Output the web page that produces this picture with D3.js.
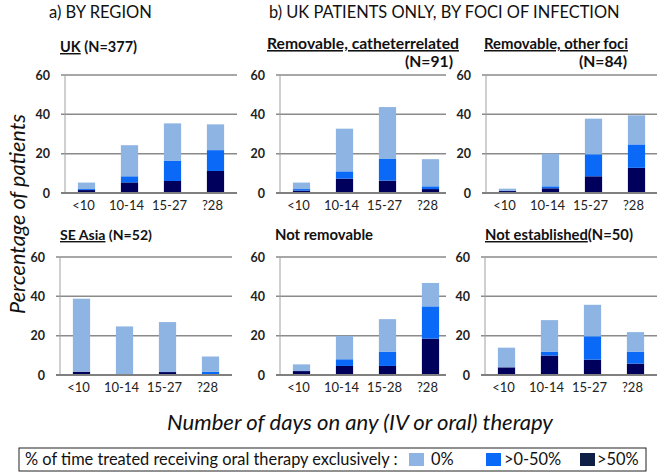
<!DOCTYPE html>
<html><head><meta charset="utf-8">
<script src="https://cdn.jsdelivr.net/npm/d3@7"></script>
<style>
body{margin:0;background:#fff;}
text{font-family:"Lato","Open Sans",sans-serif;}
</style></head>
<body><svg id="c" width="661" height="476"></svg>
<script>
const categories = ["<10","10-14","15-27","?28"];
const categoriesNR = ["<10","10-14","15-28","?28"];
const yTicks = [0,20,40,60];
const seriesNames = ["0%", ">0-50%", ">50%"];
// segment values (percentage of patients) per panel: dark (>50%), mid (>0-50%), light (0%)
const ukDark = [1.5,5.4,6.1,11.2],  ukMid = [0.5,3.1,10.4,10.6],  ukLight = [3.3,15.8,18.9,13.1];
const seDark = [1.7,0,1.5,0],       seMid = [0,0,0,1.7],          seLight = [37.1,24.7,25.4,7.7];
const catDark = [1.2,7.3,6.3,2],    catMid = [0.8,3.7,11,1.4],    catLight = [3.3,21.7,26.4,13.8];
const othDark = [1,2.4,8.5,12.8],   othMid = [0,1,11.2,11.9],     othLight = [1.2,16.6,18.1,14.8];
const nrDark = [2,4.6,4.6,18.5],    nrMid = [0,3.4,7.3,16.4],     nrLight = [3.4,11.9,16.5,11.9];
const neDark = [3.9,9.9,7.8,5.8],   neMid = [0,2,11.9,6.1],       neLight = [10,16,16,9.9];

const colors = {light:"#8db4e2", mid:"#0a6af7", dark:"#00005c"};
const svg = d3.select("#c");

// scale a text's font size so that it spans the given width
function fit(t, width) {
  const fs = +t.attr("font-size");
  const w = t.node().getComputedTextLength();
  if (w > 0) t.attr("font-size", (fs * width / w).toFixed(2));
  return t;
}

const panels = [
  {cats:categories, d:ukDark, m:ukMid, l:ukLight, x0:65, top:75, bot:193, w:172},
  {cats:categories, d:seDark, m:seMid, l:seLight, x0:60, top:257, bot:375, w:172},
  {cats:categories, d:catDark, m:catMid, l:catLight, x0:280, top:75, bot:193, w:166},
  {cats:categories, d:othDark, m:othMid, l:othLight, x0:486, top:75, bot:193, w:171},
  {cats:categoriesNR, d:nrDark, m:nrMid, l:nrLight, x0:280, top:257, bot:375, w:166},
  {cats:categories, d:neDark, m:neMid, l:neLight, x0:485, top:257, bot:375, w:172}
];

panels.forEach(p => {
  const g = svg.append("g");
  const y = d3.scaleLinear().domain([0,60]).range([p.bot, p.top]);
  const x = d3.scaleBand().domain(p.cats).range([p.x0, p.x0 + 172]).paddingInner(0.6).paddingOuter(0.3);
  g.selectAll("line.grid").data(yTicks.filter(t=>t>0)).join("line")
    .attr("x1", p.x0 - 4).attr("x2", p.x0 + p.w)
    .attr("y1", d=>y(d)).attr("y2", d=>y(d))
    .attr("stroke", "#8a8a8a").attr("stroke-width", 1.5);
  g.append("line").attr("x1", p.x0).attr("x2", p.x0).attr("y1", y(60)).attr("y2", y(0))
    .attr("stroke", "#a0a0a0").attr("stroke-width", 1);
  const rows = p.cats.map((c,i)=>({cat:c, dark:p.d[i], mid:p.m[i], light:p.l[i]}));
  const stack = d3.stack().keys(["dark","mid","light"])(rows);
  stack.forEach(s => {
    g.selectAll(null).data(s).join("rect")
      .attr("x", d=>x(d.data.cat)).attr("width", x.bandwidth())
      .attr("y", d=>y(d[1])).attr("height", d=>Math.max(0, y(d[0]) - y(d[1])))
      .attr("fill", colors[s.key]);
  });
  g.append("line").attr("x1", p.x0 - 4).attr("x2", p.x0 + p.w)
    .attr("y1", y(0)).attr("y2", y(0)).attr("stroke", "#808080").attr("stroke-width", 2);
  const ya = g.append("g").attr("transform", `translate(${p.x0},0)`)
    .call(d3.axisLeft(y).tickValues(yTicks).tickSize(0).tickPadding(15));
  ya.select(".domain").remove();
  ya.selectAll("text").attr("font-family","Liberation Sans, Arial, sans-serif")
    .attr("font-weight","bold").attr("font-size", 12.5).attr("fill","#222");
  const xa = g.append("g").attr("transform", `translate(-3,${p.bot})`)
    .call(d3.axisBottom(x).tickSize(0).tickPadding(8));
  xa.select(".domain").remove();
  xa.selectAll("text").attr("font-size", 13).attr("fill","#222");
});

function txt(x, y, s, opts={}) {
  const t = svg.append("text").attr("x", x).attr("y", y).text(s)
    .attr("font-size", opts.size || 14).attr("fill", "#111");
  if (opts.weight) t.attr("font-weight", opts.weight);
  if (opts.anchor) t.attr("text-anchor", opts.anchor);
  if (opts.style) t.attr("font-style", opts.style);
  if (opts.deco) t.attr("text-decoration", opts.deco);
  return t;
}

fit(txt(49, 18, "a) BY REGION", {size:16}), 103);
fit(txt(269, 18, "b) UK PATIENTS ONLY, BY FOCI OF INFECTION", {size:16}), 351);

let t1 = txt(60, 52, "", {size:14, weight:"bold"});
t1.append("tspan").attr("text-decoration","underline").text("UK");
t1.append("tspan").text("  (N=377)");
fit(t1, 77);
const rc = fit(txt(267, 49, "Removable, catheterrelated", {size:14, weight:"bold", deco:"underline"}), 192);
const subSize = +rc.attr("font-size");
txt(453, 67, "(N=91)", {size:subSize, weight:"bold", anchor:"end"});
fit(txt(484, 49, "Removable, other foci", {size:14, weight:"bold", deco:"underline"}), 144);
txt(627, 67, "(N=84)", {size:subSize, weight:"bold", anchor:"end"});
let t2 = txt(60, 240, "", {size:14, weight:"bold"});
t2.append("tspan").attr("text-decoration","underline").text("SE Asia");
t2.append("tspan").text(" (N=52)");
fit(t2, 92);
fit(txt(275, 240, "Not removable", {size:14, weight:"bold"}), 98);
let t3 = txt(485, 240, "", {size:14, weight:"bold"});
t3.append("tspan").attr("text-decoration","underline").text("Not established");
t3.append("tspan").text("(N=50)");
fit(t3, 148);

const yt = svg.append("text").attr("transform","translate(25,214) rotate(-90)")
  .attr("text-anchor","middle").attr("font-size",21).attr("font-style","italic")
  .attr("fill","#111").text("Percentage of patients");
fit(yt, 200);
fit(txt(360, 430, "Number of days on any (IV or oral) therapy", {size:21, style:"italic", anchor:"middle"}), 386);

svg.append("rect").attr("x",19).attr("y",448).attr("width",627).attr("height",23)
  .attr("fill","#fff").attr("stroke","#222").attr("stroke-width",1);
const lt = fit(txt(25, 464.5, "% of time  treated receiving oral therapy exclusively :", {size:13}), 373);
const legSize = +lt.attr("font-size");
const legItems = [
  {name:seriesNames[0], c:colors.light, x:409, tx:431},
  {name:seriesNames[1], c:colors.mid, x:486, tx:504},
  {name:seriesNames[2], c:"#0f1f45", x:580, tx:597}
];
legItems.forEach(li => {
  svg.append("rect").attr("x", li.x).attr("y", 453).attr("width", 15).attr("height", 13).attr("fill", li.c);
  txt(li.tx, 464.5, li.name, {size:legSize});
});
</script></body></html>
